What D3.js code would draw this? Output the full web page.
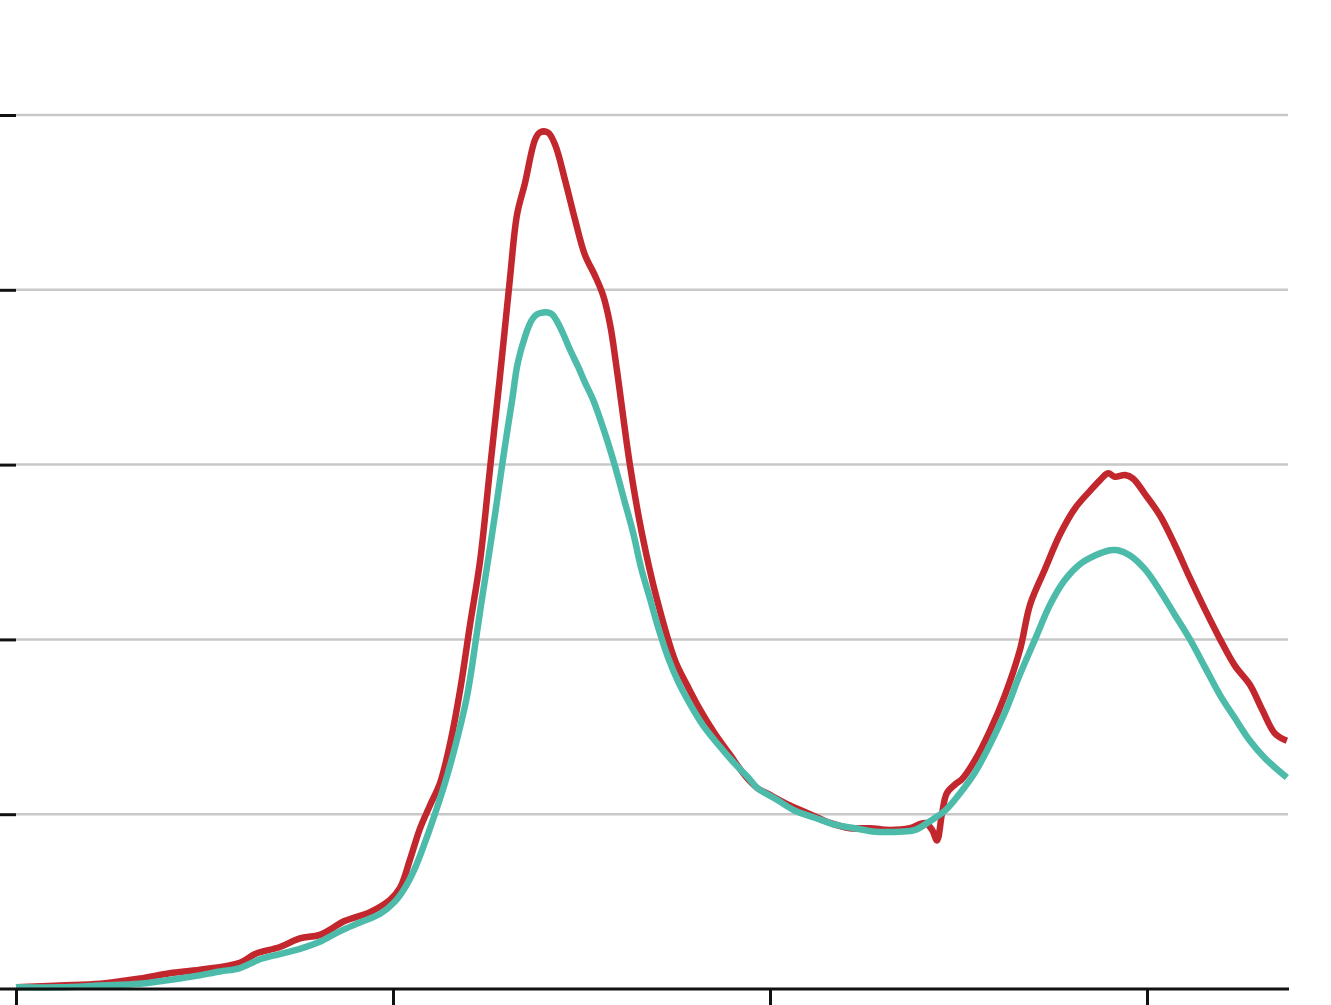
<!DOCTYPE html>
<html>
<head>
<meta charset="utf-8">
<script src="https://cdn.jsdelivr.net/npm/d3@7"></script>
<style>
  html, body { margin: 0; padding: 0; background: #fff; }
  svg { display: block; }
</style>
</head>
<body>
<svg id="chart" width="1331" height="1005"></svg>
<script>
// x positions in axis units (tick every 1 unit), y values in axis units (grid every 1)
const xTicks = [0, 1, 2, 3];
const yTicks = [1, 2, 3, 4, 5];

const redSeries = [
  [0.000,0.01],[0.117,0.02],[0.223,0.03],[0.329,0.06],[0.408,0.09],[0.488,0.11],
  [0.594,0.15],[0.634,0.20],[0.700,0.24],[0.753,0.29],[0.806,0.31],[0.873,0.39],
  [0.939,0.44],[0.992,0.51],[1.019,0.58],[1.045,0.74],[1.072,0.92],[1.098,1.05],
  [1.125,1.18],[1.151,1.40],[1.178,1.71],[1.204,2.08],[1.231,2.45],[1.257,2.97],
  [1.284,3.51],[1.310,4.06],[1.329,4.43],[1.350,4.61],[1.377,4.86],[1.390,4.90],
  [1.411,4.90],[1.430,4.83],[1.456,4.63],[1.483,4.40],[1.509,4.20],[1.536,4.08],
  [1.557,3.97],[1.576,3.80],[1.594,3.54],[1.629,2.99],[1.660,2.61],[1.700,2.23],
  [1.748,1.88],[1.782,1.73],[1.814,1.60],[1.854,1.46],[1.894,1.34],
  [1.934,1.22],[1.966,1.15],[2.000,1.11],[2.053,1.05],[2.106,1.00],[2.159,0.95],
  [2.212,0.92],[2.265,0.92],[2.318,0.91],[2.371,0.92],[2.411,0.95],[2.430,0.91],
  [2.443,0.85],[2.456,1.00],[2.469,1.12],[2.491,1.17],[2.509,1.20],[2.544,1.31],
  [2.584,1.48],[2.623,1.68],[2.663,1.94],[2.690,2.20],[2.729,2.40],[2.769,2.60],
  [2.809,2.75],[2.849,2.85],[2.875,2.91],[2.897,2.95],[2.915,2.93],[2.942,2.94],
  [2.963,2.92],[2.995,2.83],[3.034,2.71],[3.074,2.54],[3.114,2.35],[3.154,2.17],
  [3.194,2.00],[3.233,1.85],[3.273,1.74],[3.305,1.60],[3.340,1.46],[3.371,1.42]
];

const tealSeries = [
  [0.000,0.01],[0.117,0.01],[0.223,0.02],[0.329,0.03],[0.435,0.06],[0.541,0.10],
  [0.594,0.12],[0.647,0.17],[0.700,0.20],[0.753,0.23],[0.806,0.27],[0.859,0.33],
  [0.912,0.38],[0.966,0.43],[1.005,0.50],[1.032,0.58],[1.058,0.69],[1.085,0.84],
  [1.111,1.00],[1.138,1.18],[1.164,1.38],[1.194,1.65],[1.207,1.81],[1.220,2.00],
  [1.233,2.19],[1.249,2.41],[1.271,2.72],[1.289,2.99],[1.305,3.22],[1.316,3.37],
  [1.329,3.56],[1.340,3.66],[1.347,3.71],[1.358,3.78],[1.369,3.83],[1.382,3.86],
  [1.398,3.87],[1.411,3.87],[1.422,3.86],[1.435,3.82],[1.451,3.75],[1.469,3.66],
  [1.491,3.56],[1.509,3.47],[1.531,3.37],[1.562,3.18],[1.589,2.99],[1.613,2.80],
  [1.637,2.61],[1.658,2.41],[1.682,2.23],[1.706,2.05],[1.729,1.90],[1.756,1.76],
  [1.788,1.63],[1.822,1.51],[1.862,1.40],[1.902,1.30],[1.942,1.21],[1.966,1.15],
  [2.013,1.09],[2.066,1.02],[2.119,0.98],[2.172,0.94],[2.225,0.92],[2.279,0.90],
  [2.345,0.90],[2.385,0.91],[2.424,0.96],[2.464,1.02],[2.504,1.12],[2.544,1.24],
  [2.584,1.40],[2.623,1.58],[2.663,1.80],[2.703,2.00],[2.743,2.20],[2.782,2.34],
  [2.822,2.43],[2.862,2.48],[2.902,2.51],[2.923,2.51],[2.955,2.48],[2.995,2.40],
  [3.034,2.28],[3.074,2.14],[3.114,2.00],[3.154,1.84],[3.194,1.68],[3.233,1.55],
  [3.273,1.42],[3.313,1.32],[3.371,1.21]
];

const svg = d3.select("#chart");
const x = d3.scaleLinear().domain([0, 3.374]).range([16, 1288]);
const y = d3.scaleLinear().domain([0, 5]).range([989, 115]);

// gridlines
svg.append("g")
  .selectAll("line")
  .data(yTicks)
  .join("line")
  .attr("x1", 16).attr("x2", 1288)
  .attr("y1", d => y(d)).attr("y2", d => y(d))
  .attr("stroke", "#c8c8c8").attr("stroke-width", 2.5);

// y axis ticks
const yAxis = svg.append("g")
  .attr("transform", "translate(16,0)")
  .call(d3.axisLeft(y).tickValues(yTicks).tickSize(16).tickFormat(""));
yAxis.select(".domain").remove();
yAxis.selectAll("line").attr("stroke", "#111").attr("stroke-width", 3);

// lines
const line = d3.line().x(d => x(d[0])).y(d => y(d[1])).curve(d3.curveCatmullRom.alpha(0.5));

svg.append("path").datum(redSeries)
  .attr("fill", "none").attr("stroke", "#c1272d").attr("stroke-width", 6.5)
  .attr("stroke-linejoin", "round").attr("stroke-linecap", "butt")
  .attr("d", line);

svg.append("path").datum(tealSeries)
  .attr("fill", "none").attr("stroke", "#4dbbaa").attr("stroke-width", 6.5)
  .attr("stroke-linejoin", "round").attr("stroke-linecap", "butt")
  .attr("d", line);

// x axis
const xAxis = svg.append("g")
  .attr("transform", "translate(0,989)")
  .call(d3.axisBottom(x).tickValues(xTicks).tickSize(20).tickFormat(""));
xAxis.select(".domain").remove();
xAxis.selectAll("line").attr("stroke", "#111").attr("stroke-width", 3);
svg.append("line")
  .attr("x1", 0).attr("x2", 1289)
  .attr("y1", 989).attr("y2", 989)
  .attr("stroke", "#111").attr("stroke-width", 3);
</script>
</body>
</html>
